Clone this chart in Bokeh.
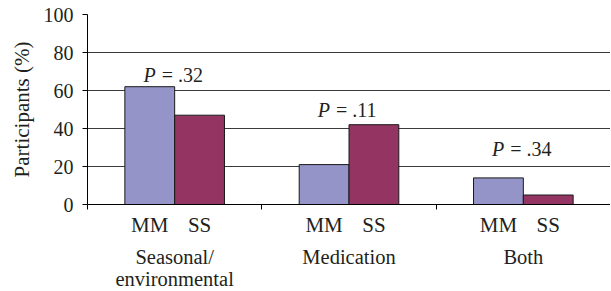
from bokeh.plotting import figure
from bokeh.models import ColumnDataSource, FixedTicker, LinearAxis, Range1d
from bokeh.core.properties import value
from bokeh.embed import file_html
from bokeh.resources import INLINE

# ---- data ----
categories = ["Seasonal/\nenvironmental", "Medication", "Both"]
series = ["MM", "SS"]
mm_values = [62, 21, 14]
ss_values = [47, 42, 5]
p_texts = ["= .32", "= .11", "= .34"]
p_label_y = [68, 50, 29]
y_ticks = [0, 20, 40, 60, 80, 100]

MM_COLOR = "#9494C8"
SS_COLOR = "#933462"
FONT = "Liberation Serif, Times New Roman, serif"
TXT = "#231F20"
FS = "20px"

CAT_W = 7.0   # width of one category in x units
BAR_W = 2.0

mm_x = [CAT_W * i + 2.5 for i in range(len(categories))]
ss_x = [CAT_W * i + 4.5 for i in range(len(categories))]
cat_x = [CAT_W * i + 3.5 for i in range(len(categories))]
bounds = [CAT_W * i for i in range(len(categories) + 1)]

p = figure(frame_width=523, frame_height=190, output_backend="svg", toolbar_location=None,
           x_range=Range1d(0, CAT_W * len(categories)), y_range=Range1d(0, 100),
           min_border_left=87, min_border_right=0, min_border_top=14, min_border_bottom=0,
           x_axis_type=None)
p.outline_line_color = None
p.background_fill_color = None
p.border_fill_color = "white"

# grid
p.xgrid.visible = False
p.ygrid.ticker = FixedTicker(ticks=y_ticks)
p.ygrid.grid_line_color = "#3a3a3a"
p.ygrid.grid_line_width = 1

# bars
src_mm = ColumnDataSource(dict(x=mm_x, top=mm_values))
src_ss = ColumnDataSource(dict(x=ss_x, top=ss_values))
p.vbar(x="x", top="top", width=BAR_W, source=src_mm, fill_color=MM_COLOR,
       line_color="#1a1a1a", line_width=1)
p.vbar(x="x", top="top", width=BAR_W, source=src_ss, fill_color=SS_COLOR,
       line_color="#1a1a1a", line_width=1)

# p-value annotations
src_p = ColumnDataSource(dict(x=cat_x, y=p_label_y, rest=p_texts, P=["P"] * 3))
p.text(x="x", y="y", text="P", source=src_p, x_offset=-19,
       text_align="right", text_baseline="middle",
       text_font=value(FONT), text_font_style="italic", text_font_size=FS,
       text_color=TXT)
p.text(x="x", y="y", text="rest", source=src_p, x_offset=-13,
       text_align="left", text_baseline="middle",
       text_font=value(FONT), text_font_size=FS, text_color=TXT)

# y axis
ya = p.yaxis[0]
ya.ticker = FixedTicker(ticks=y_ticks)
ya.axis_label = "Participants (%)"
ya.axis_label_text_font = FONT
ya.axis_label_text_font_size = "21px"
ya.axis_label_text_font_style = "normal"
ya.axis_label_text_color = TXT
ya.axis_label_standoff = 7
ya.major_label_text_font = FONT
ya.major_label_text_font_size = FS
ya.major_label_text_color = TXT
ya.major_label_standoff = 9
ya.major_tick_in = 0
ya.major_tick_out = 5
ya.minor_tick_line_color = None
ya.axis_line_color = "black"
ya.major_tick_line_color = "black"

# x axis: series labels and category separators
bar_centers = []
overrides = {}
for i in range(len(categories)):
    for xv, s in zip([mm_x[i], ss_x[i]], series):
        bar_centers.append(xv)
        overrides[xv] = s
xa = LinearAxis(ticker=FixedTicker(ticks=bar_centers, minor_ticks=bounds),
                major_label_overrides=overrides)
xa.major_tick_line_color = None
xa.major_tick_out = 0
xa.minor_tick_in = 0
xa.minor_tick_out = 5
xa.minor_tick_line_color = "black"
xa.axis_line_color = "black"
xa.major_label_text_font = FONT
xa.major_label_text_font_size = "21px"
xa.major_label_text_color = TXT
xa.major_label_standoff = 3
p.add_layout(xa, "below")

# x axis: category names
ca = LinearAxis(ticker=FixedTicker(ticks=cat_x, minor_ticks=[]),
                major_label_overrides={xv: c for xv, c in zip(cat_x, categories)})
ca.axis_line_color = None
ca.major_tick_line_color = None
ca.minor_tick_line_color = None
ca.major_tick_out = 0
ca.major_label_text_font = FONT
ca.major_label_text_font_size = "20.5px"
ca.major_label_text_color = TXT
ca.major_label_text_line_height = 1.0
ca.major_label_standoff = 6
p.add_layout(ca, "below")

open("out.html", "w").write(file_html(p, INLINE))
